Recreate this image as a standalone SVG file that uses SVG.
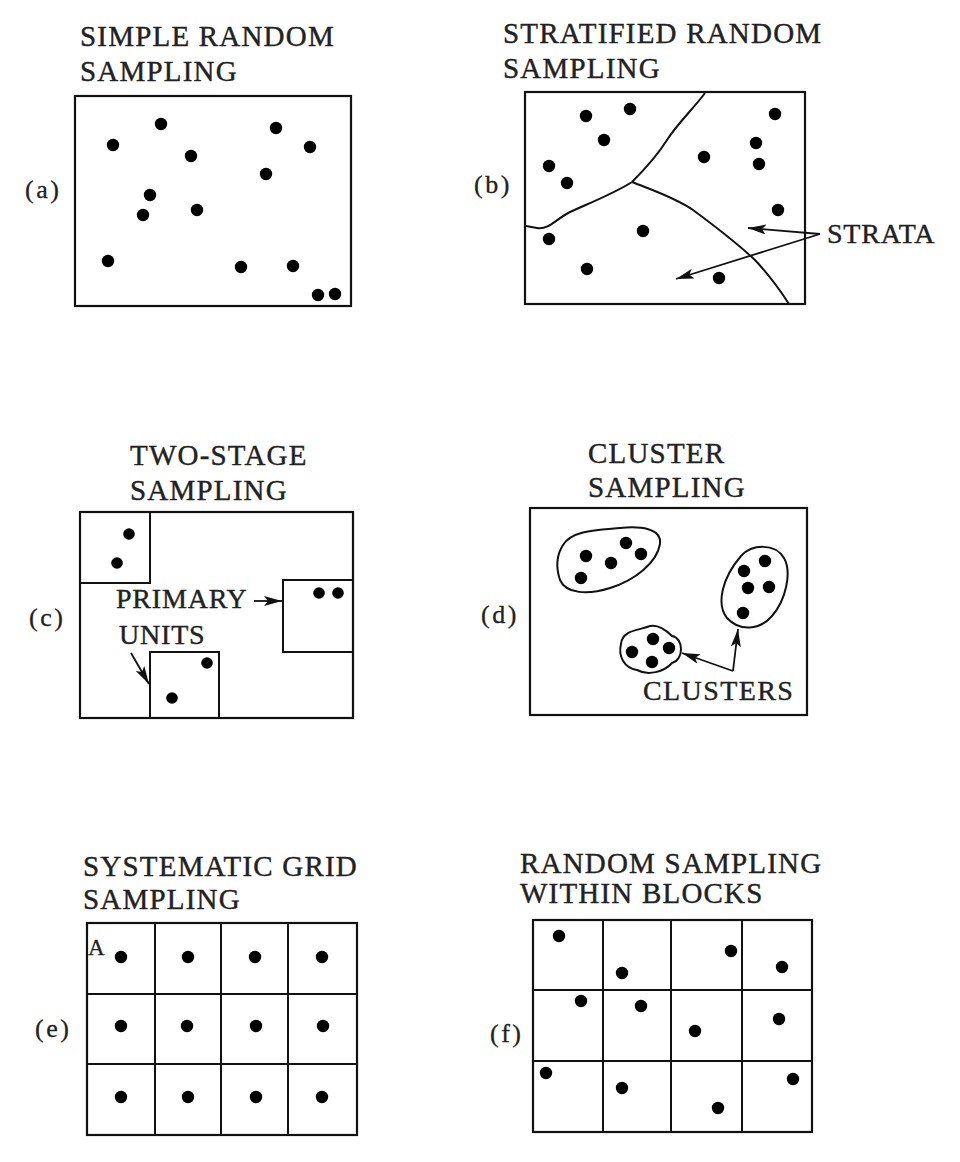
<svg xmlns="http://www.w3.org/2000/svg" width="960" height="1162" viewBox="0 0 960 1162">
<defs>
<style>
.t{font-family:"Liberation Serif","Times New Roman",serif;font-size:29px;letter-spacing:1.2px;fill:#222;stroke:#222;stroke-width:0.4}
.l{font-family:"Liberation Serif","Times New Roman",serif;font-size:26px;letter-spacing:2.5px;fill:#222;stroke:#222;stroke-width:0.3}
.s{font-family:"Liberation Serif","Times New Roman",serif;font-size:28px;letter-spacing:0.8px;fill:#222;stroke:#222;stroke-width:0.4}
.b{fill:none;stroke:#111;stroke-width:2.2}
.c{fill:none;stroke:#111;stroke-width:2}
.a{fill:none;stroke:#111;stroke-width:1.8}
.d{fill:#000}
</style>
<marker id="ah" viewBox="0 0 18 10" refX="18" refY="5" markerWidth="18" markerHeight="10" markerUnits="userSpaceOnUse" orient="auto">
<path d="M0,0 L18,5 L0,10 L4,5 z" fill="#111"/>
</marker>
</defs>
<rect width="960" height="1162" fill="#fff"/>

<g id="panel-a">
<text class="t" x="80" y="46">SIMPLE RANDOM</text>
<text class="t" x="80" y="81">SAMPLING</text>
<text class="l" x="25" y="198">(a)</text>
<rect class="b" x="75" y="96" width="276" height="210"/>
<g class="d">
<circle cx="113" cy="145" r="6.2"/><circle cx="161" cy="124" r="6.2"/><circle cx="191" cy="156" r="6.2"/>
<circle cx="276" cy="128" r="6.2"/><circle cx="310" cy="147" r="6.2"/><circle cx="266" cy="174" r="6.2"/>
<circle cx="150" cy="195" r="6.2"/><circle cx="143" cy="215" r="6.2"/><circle cx="197" cy="210" r="6.2"/>
<circle cx="108" cy="261" r="6.2"/><circle cx="241" cy="267" r="6.2"/><circle cx="293" cy="266" r="6.2"/>
<circle cx="318" cy="295" r="6.2"/><circle cx="335" cy="294" r="6.2"/>
</g>
</g>

<g id="panel-b">
<text class="t" x="503" y="43">STRATIFIED RANDOM</text>
<text class="t" x="503" y="78">SAMPLING</text>
<text class="l" x="474" y="193">(b)</text>
<rect class="b" x="525" y="92" width="280" height="212"/>
<path class="c" d="M705,93 C694,108 677,124 667,140 C657,156 644,170 632,182"/>
<path class="c" d="M632,182 C615,193 592,202 570,212 C556,219 549,230 537,228 L526,226"/>
<path class="c" d="M632,182 C652,190 676,198 693,210 C712,224 740,246 755,260 C770,276 780,290 789,304"/>
<g class="d">
<circle cx="586" cy="116" r="6.2"/><circle cx="630" cy="109" r="6.2"/><circle cx="604" cy="140" r="6.2"/>
<circle cx="775" cy="114" r="6.2"/><circle cx="756" cy="143" r="6.2"/><circle cx="759" cy="164" r="6.2"/>
<circle cx="704" cy="157" r="6.2"/><circle cx="549" cy="166" r="6.2"/><circle cx="567" cy="183" r="6.2"/>
<circle cx="778" cy="210" r="6.2"/><circle cx="643" cy="231" r="6.2"/><circle cx="549" cy="239" r="6.2"/>
<circle cx="587" cy="269" r="6.2"/><circle cx="719" cy="278" r="6.2"/>
</g>
<text class="s" x="827" y="243">STRATA</text>
</g>

<g id="panel-c">
<text class="t" x="130" y="465">TWO-STAGE</text>
<text class="t" x="130" y="500">SAMPLING</text>
<text class="l" x="29" y="626">(c)</text>
<rect class="b" x="80" y="512" width="273" height="206"/>
<path class="c" d="M80,583 H150 V512"/>
<path class="c" d="M353,580 H283 V652 H353"/>
<path class="c" d="M150,718 V652 H219 V718"/>
<g class="d">
<circle cx="129" cy="534" r="5.8"/><circle cx="117" cy="563" r="5.8"/>
<circle cx="319" cy="593" r="5.8"/><circle cx="338" cy="593" r="5.8"/>
<circle cx="207" cy="663" r="5.8"/><circle cx="172" cy="698" r="5.8"/>
</g>
<text class="s" x="116" y="608">PRIMARY</text>
<text class="s" x="119" y="644">UNITS</text>
</g>

<g id="panel-d">
<text class="t" x="588" y="463">CLUSTER</text>
<text class="t" x="588" y="497">SAMPLING</text>
<text class="l" x="481" y="623">(d)</text>
<rect class="b" x="530" y="508" width="277" height="207"/>
<path class="c" d="M563,545 C572,530 598,530 620,528 C640,526 662,528 660,544 C657,562 636,580 610,588 C588,595 566,594 560,580 C556,568 556,556 563,545 Z"/>
<path class="c" d="M741,556 C752,544 775,543 784,558 C792,572 786,600 772,616 C760,630 740,632 727,618 C716,604 722,578 741,556 Z"/>
<path class="c" d="M621,644 C622,630 640,630 647,627 C656,623 666,630 672,636 C684,638 684,660 672,663 C664,672 648,676 637,670 C624,668 618,656 621,644 Z"/>
<g class="d">
<circle cx="586" cy="556" r="6.2"/><circle cx="581" cy="578" r="6.2"/><circle cx="611" cy="563" r="6.2"/>
<circle cx="626" cy="543" r="6.2"/><circle cx="641" cy="554" r="6.2"/>
<circle cx="744" cy="571" r="6.2"/><circle cx="765" cy="561" r="6.2"/><circle cx="748" cy="588" r="6.2"/>
<circle cx="769" cy="587" r="6.2"/><circle cx="743" cy="613" r="6.2"/>
<circle cx="632" cy="652" r="6.2"/><circle cx="653" cy="639" r="6.2"/><circle cx="669" cy="648" r="6.2"/>
<circle cx="652" cy="662" r="6.2"/>
</g>
<text class="s" x="643" y="700" style="letter-spacing:1.4px">CLUSTERS</text>
</g>

<g id="panel-e">
<text class="t" x="83" y="876">SYSTEMATIC GRID</text>
<text class="t" x="83" y="909">SAMPLING</text>
<text class="l" x="35" y="1037">(e)</text>
<rect class="b" x="87" y="923" width="270" height="212"/>
<path class="c" d="M155,923 V1135 M221,923 V1135 M288,923 V1135 M87,994 H357 M87,1064 H357"/>
<text class="l" x="88" y="955" style="font-size:23px;letter-spacing:0">A</text>
<g class="d">
<circle cx="121" cy="957" r="6.2"/><circle cx="188" cy="957" r="6.2"/><circle cx="255" cy="957" r="6.2"/><circle cx="322" cy="957" r="6.2"/>
<circle cx="121" cy="1026" r="6.2"/><circle cx="187" cy="1026" r="6.2"/><circle cx="256" cy="1026" r="6.2"/><circle cx="323" cy="1026" r="6.2"/>
<circle cx="121" cy="1097" r="6.2"/><circle cx="188" cy="1097" r="6.2"/><circle cx="256" cy="1097" r="6.2"/><circle cx="322" cy="1097" r="6.2"/>
</g>
</g>

<g id="panel-f">
<text class="t" x="520" y="873">RANDOM SAMPLING</text>
<text class="t" x="520" y="903">WITHIN BLOCKS</text>
<text class="l" x="490" y="1042">(f)</text>
<rect class="b" x="533" y="920" width="279" height="212"/>
<path class="c" d="M603,920 V1132 M671,920 V1132 M742,920 V1132 M533,990 H812 M533,1061 H812"/>
<g class="d">
<circle cx="559" cy="936" r="6.2"/><circle cx="622" cy="973" r="6.2"/><circle cx="731" cy="951" r="6.2"/><circle cx="782" cy="967" r="6.2"/>
<circle cx="581" cy="1001" r="6.2"/><circle cx="641" cy="1006" r="6.2"/><circle cx="695" cy="1031" r="6.2"/><circle cx="779" cy="1019" r="6.2"/>
<circle cx="546" cy="1073" r="6.2"/><circle cx="622" cy="1088" r="6.2"/><circle cx="718" cy="1108" r="6.2"/><circle cx="793" cy="1079" r="6.2"/>
</g>
</g>

<g id="connectors">
<path class="a" d="M820,234 L748,228" marker-end="url(#ah)"/>
<path class="a" d="M820,234 L676,279" marker-end="url(#ah)"/>
<path class="a" d="M254,601 L282,601" marker-end="url(#ah)"/>
<path class="a" d="M131,653 L149,684" marker-end="url(#ah)"/>
<path class="a" d="M733,671 L682,653" marker-end="url(#ah)"/>
<path class="a" d="M733,671 L738,629" marker-end="url(#ah)"/>
</g>
</svg>
